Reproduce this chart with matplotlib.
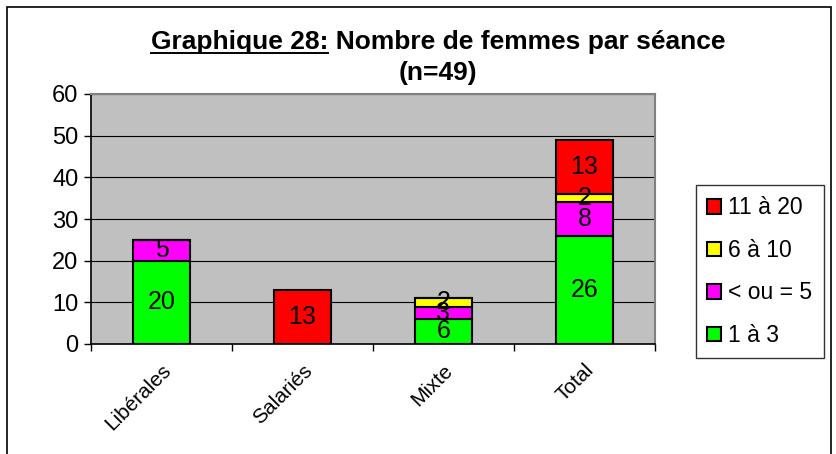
import numpy as np
import matplotlib
matplotlib.use("Agg")
import matplotlib.pyplot as plt
from matplotlib.patches import Rectangle
from matplotlib.lines import Line2D

plt.rcParams['font.family'] = ['Liberation Sans', 'DejaVu Sans']

categories = ["Libérales", "Salariés", "Mixte", "Total"]
series_names = ["1 à 3", "< ou = 5", "6 à 10", "11 à 20"]
val_1_3 = [20, 0, 6, 26]
val_le5 = [5, 0, 3, 8]
val_6_10 = [0, 0, 2, 2]
val_11_20 = [0, 13, 0, 13]
colors = ["#00FF00", "#FF00FF", "#FFFF00", "#FF0000"]
yticks = [0, 10, 20, 30, 40, 50, 60]

fig = plt.figure(figsize=(8.37, 4.54), dpi=100)
fig.patch.set_facecolor("white")
# cadre extérieur
fig.patches.append(Rectangle((7 / 837, -0.01), 824 / 837, 1 - 7 / 454 + 0.01,
                             transform=fig.transFigure, fill=False,
                             edgecolor="black", linewidth=1.2))

ax = fig.add_axes([91 / 837, 1 - 344 / 454, 564 / 837, 250 / 454])
ax.set_facecolor("#C0C0C0")
for s in ax.spines.values():
    s.set_color("#808080")
    s.set_linewidth(1.5)
ax.spines["left"].set_color("black")
ax.spines["left"].set_linewidth(1.2)
ax.spines["bottom"].set_color("black")
ax.spines["bottom"].set_linewidth(1.2)
ax.yaxis.grid(True, color="black", linewidth=0.8, zorder=1)
ax.set_axisbelow(True)

x = np.arange(len(categories))
bottom = np.zeros(len(categories))
for name, vals, col in zip(series_names, [val_1_3, val_le5, val_6_10, val_11_20], colors):
    vals = np.array(vals)
    ax.bar(x, vals, width=0.4, bottom=bottom, color=col, edgecolor="black",
           linewidth=1.5, label=name, zorder=3)
    for xi, b, v in zip(x, bottom, vals):
        if v > 0:
            ax.text(xi, b + v / 2, str(v), ha="center", va="center",
                    fontsize=18, color="black", zorder=4)
    bottom = bottom + vals

ax.set_xlim(-0.5, len(categories) - 0.5)
ax.set_ylim(0, 60)
ax.set_yticks(yticks)
ax.set_yticklabels([str(v) for v in yticks], fontsize=17)
ax.tick_params(axis="y", direction="out", length=5, width=1, pad=4)
ax.set_xticks(np.arange(-0.5, len(categories), 1.0))
ax.set_xticklabels([])
ax.set_xticks(x, minor=True)
ax.set_xticklabels(categories, minor=True, rotation=45, ha="right",
                   rotation_mode="anchor", fontsize=15)
ax.tick_params(axis="x", which="major", direction="out", length=5, width=1)
ax.tick_params(axis="x", which="minor", length=0, pad=12)

# légende
handles = [Rectangle((0, 0), 1, 1, facecolor=c, edgecolor="black", linewidth=1.5)
           for c in colors[::-1]]
leg = fig.legend(handles, series_names[::-1], loc="upper left",
                 bbox_to_anchor=(696 / 837, 1 - 185 / 454), fontsize=16.5,
                 frameon=True, fancybox=False, edgecolor="black",
                 handlelength=0.6, handleheight=0.6, handletextpad=0.3,
                 labelspacing=0.85, borderpad=0.5, borderaxespad=0)
leg.get_frame().set_linewidth(1.0)

# titre avec partie soulignée
part1 = "Graphique 28:"
full = part1 + " Nombre de femmes par séance"
t = fig.text(438 / 837, 1 - 42 / 454, full, ha="center", va="center",
             fontsize=19, fontweight="bold")
fig.text(438 / 837, 1 - 73 / 454, "(n=49)", ha="center", va="center",
         fontsize=19, fontweight="bold")
fig.canvas.draw()
r = fig.canvas.get_renderer()
bb = t.get_window_extent(r)
tmp = fig.text(0, 0, part1, fontsize=19, fontweight="bold")
w = tmp.get_window_extent(r).width
tmp.remove()
x0 = bb.x0 / fig.bbox.width
x1 = (bb.x0 + w) / fig.bbox.width
yline = (bb.y0 + 1) / fig.bbox.height
fig.lines.append(Line2D([x0, x1], [yline, yline], transform=fig.transFigure,
                        color="black", linewidth=1.4))

fig.savefig("out.png", dpi=100, facecolor="white")
